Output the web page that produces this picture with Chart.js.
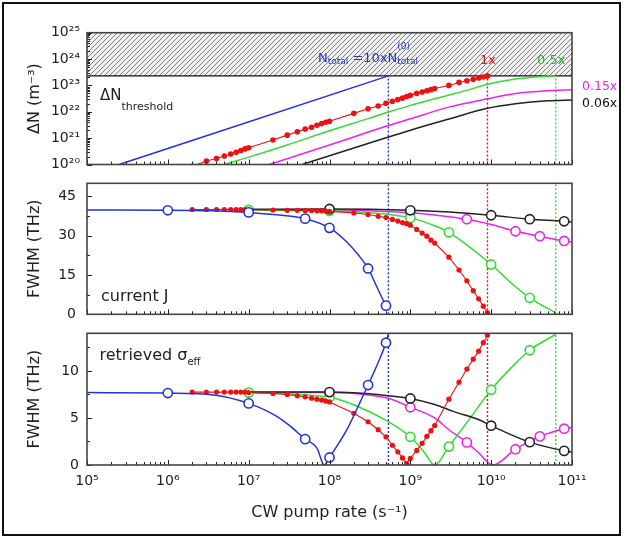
<!DOCTYPE html>
<html><head><meta charset="utf-8">
<script src="https://cdn.jsdelivr.net/npm/chart.js@4/dist/chart.umd.min.js"></script>
<style>
html,body{margin:0;padding:0;background:#fff;}
#wrap{position:relative;width:625px;height:538px;overflow:hidden;font-family:"DejaVu Sans",sans-serif;}
canvas{position:absolute;left:0;top:0;}
#frame{position:absolute;left:2px;top:2px;width:619px;height:534px;border:2px solid #111;box-sizing:border-box;}
.t{position:absolute;white-space:nowrap;line-height:1;}
.sb{font-size:9px;vertical-align:-2px;}
.rel{position:relative;}
.sup0{position:absolute;left:0;top:-8px;font-size:9px;}
</style></head><body>
<div id="wrap">
<div id="frame"></div>
<canvas id="c1" width="625" height="538"></canvas>
<canvas id="c2" width="625" height="538"></canvas>
<canvas id="c3" width="625" height="538"></canvas>
<div class="t" style="left:318px;top:50.5px;font-size:13px;color:#2233dd;">N<span class="sb">total</span> =10xN<span class="rel"><span class="sb">total</span><span class="sup0">(0)</span></span></div>
<div class="t" style="left:480px;top:53px;font-size:13px;color:#ee1111;">1x</div>
<div class="t" style="left:537px;top:53px;font-size:13px;color:#22bb22;">0.5x</div>
<div class="t" style="left:582px;top:80px;font-size:12.5px;color:#ee22ee;">0.15x</div>
<div class="t" style="left:582px;top:97px;font-size:12.5px;color:#111;">0.06x</div>
<div class="t" style="left:100px;top:87.5px;font-size:15px;color:#222;">ΔN<span style="font-size:11px;vertical-align:-10px;">threshold</span></div>
<div class="t" style="left:101px;top:288.3px;font-size:16px;color:#222;">current J</div>
<div class="t" style="left:99.5px;top:347px;font-size:16px;color:#222;">retrieved σ<span style="font-size:10px;vertical-align:-5px;">eff</span></div>
</div>
<script>
// ===== axis ticks =====
const xMin = 1e5, xMax = 1e11;
const xTickValues = [1e5,1e6,1e7,1e8,1e9,1e10,1e11];
const xTickLabels = ['10⁵','10⁶','10⁷','10⁸','10⁹','10¹⁰','10¹¹'];
const nTickValues = [1e20,1e21,1e22,1e23,1e24,1e25];
const nTickLabels = ['10²⁰','10²¹','10²²','10²³','10²⁴','10²⁵'];
const jTickValues = [0,15,30,45];
const sTickValues = [0,5,10];

// ===== markers / reference values =====
const thresholdN = 2.3e23;
const rateBlue = 5.35e8, rateRed = 9e9, rateGreen = 6.3e10;

// red series (dots, all three panels)
const redX = [2e6,3e6,4e6,5e6,6e6,7e6,8e6,9e6,1e7, 2e7,3e7,4e7,5e7,6e7,7e7,8e7,9e7,1e8, 2e8,3e8,4e8,5e8,6e8,7e8,8e8,9e8,1e9, 1.2e9,1.4e9,1.6e9,1.8e9,2e9, 3e9,4e9,5e9,6e9,7e9,8e9,9e9];
const redN = [0.85e20,1.35e20,1.7e20,2.1e20,2.5e20,2.9e20,3.4e20,3.9e20,4.3e20, 8.5e20,1.3e21,1.75e21,2.2e21,2.6e21,3.1e21,3.6e21,4.0e21,4.4e21, 8.7e21,1.3e22,1.65e22,2.1e22,2.5e22,2.9e22,3.3e22,3.8e22,4.2e22, 5.0e22,5.6e22,6.3e22,6.9e22,7.6e22, 1.0e23,1.3e23,1.5e23,1.7e23,1.9e23,2.1e23,2.3e23];
const redJ = [40.0,40.0,40.0,40.0,40.0,40.0,40.0,40.0,39.9, 39.8,39.7,39.7,39.6,39.6,39.5,39.5,39.4,39.3, 38.7,38.1,37.4,36.9,36.2,35.6,35.0,34.6,34.0, 32.4,31.0,29.8,28.3,27.2, 21.8,16.9,12.8,9.0,5.9,3.1,0.6];
const redS = [7.75,7.75,7.75,7.75,7.75,7.75,7.75,7.75,7.7, 7.6,7.5,7.35,7.25,7.1,7.0,6.9,6.8,6.7, 5.5,4.6,3.75,3.0,2.1,1.4,0.75,0.15,0.7, 1.55,2.3,3.05,3.65,4.2, 7.0,8.8,10.2,11.25,12.1,13.0,13.8];

// top panel curves (ΔN threshold)
const blueNX = [2.5e5, 5.35e8];
const blueN = [1e20, 2.3e23];
const greenNX = [5e6,1e7,3e7,1e8,3e8,5.35e8,1e9,2e9,3e9,5e9,9e9,2e10,4e10,6.3e10];
const greenN = [1.0e20,1.9e20,5.5e20,1.9e21,5.5e21,9.8e21,1.75e22,3.1e22,4.3e22,6.5e22,1.1e23,1.75e23,2.15e23,2.3e23];
const magentaNX = [1.8e7,1e8,5.35e8,1e9,3e9,9e9,2e10,5e10,1e11];
const magentaN = [1.0e20,5.5e20,3.0e21,5.4e21,1.5e22,3.1e22,4.9e22,6.3e22,6.8e22];
const blackNX = [4.6e7,1e8,5.35e8,1e9,3e9,9e9,2e10,5e10,1e11];
const blackN = [1.0e20,2.15e20,1.1e21,2.0e21,5.3e21,1.35e22,2.0e22,2.6e22,2.8e22];

// middle panel (current J)
const blueCircX = [1e6,1e7,5e7,1e8,3e8,5e8];
const blueCircJ = [39.7,38.9,36.5,33.0,17.5,3.3];
const blueCurveJX = [1e5,1e6,3e6,1e7,2e7,5e7,1e8,1.64e8,2.28e8,3e8,3.85e8,4.4e8,5e8];
const blueCurveJ = [39.8,39.7,39.5,38.9,38.1,36.5,33.0,27.6,22.6,17.5,10.5,6.7,3.3];
const greenCircX = [1e7,1e8,1e9,3e9,1e10,3e10];
const greenCircJ = [39.8,39.5,36.8,31.3,19.0,6.3];
const greenCurveJX = [1e7,1e8,3e8,1e9,2e9,3e9,5e9,1e10,2e10,3e10,4.5e10,6.3e10];
const greenCurveJ = [39.8,39.5,38.8,36.8,33.8,31.3,26.5,19.0,10.5,6.3,3.0,0.6];
const magentaCircX = [1e8,1e9,5e9,2e10,4e10,8e10];
const magentaCircJ = [39.8,38.8,36.3,31.7,29.8,28.0];
const magentaCurveJX = [1e7,1e8,1e9,2e9,5e9,1e10,2e10,4e10,8e10,1e11];
const magentaCurveJ = [39.9,39.8,38.8,37.9,36.3,34.3,31.7,29.8,28.0,27.7];
const blackCircX = [1e8,1e9,1e10,3e10,8e10];
const blackCircJ = [40.2,39.7,37.8,36.3,35.5];
const blackCurveJX = [1e7,1e8,1e9,3e9,1e10,3e10,8e10,1e11];
const blackCurveJ = [40.1,40.2,39.7,39.0,37.8,36.3,35.5,35.2];

// bottom panel (retrieved sigma_eff)
const blueCircS = [7.65,6.55,2.75,0.8,8.5,13.0];
const blueCurveSX = [1e5,1e6,3.7e6,1e7,2.2e7,3.3e7,5e7,7e7,8.6e7,1e8,1.64e8,2.28e8,3e8,4e8,5e8,5.4e8];
const blueCurveS = [7.7,7.65,7.45,6.55,5.2,4.1,2.75,1.8,0,0.8,3.75,6.3,8.5,10.9,13.0,14.0];
const greenCircS = [7.7,7.2,3.0,1.96,8.0,12.2];
const greenCurveSX = [1e7,1e8,2e8,5.35e8,1e9,1.5e9,2e9,3e9,5e9,1e10,2e10,3e10,6.3e10];
const greenCurveS = [7.7,7.2,6.4,4.6,3.0,1.3,0,1.96,4.5,8.0,10.8,12.2,13.9];
const magentaCircS = [7.7,6.14,2.4,1.68,3.04,3.86];
const magentaCurveSX = [1e7,1e8,3e8,5.35e8,1e9,2e9,3e9,5e9,7e9,1.05e10,2e10,4e10,8e10,1e11];
const magentaCurveS = [7.7,7.7,7.45,7.1,6.14,5.0,3.75,2.4,1.3,0,1.68,3.04,3.86,4.0];
const blackCircS = [7.75,7.07,4.18,2.43,1.5];
const blackCurveSX = [1e7,1e8,5e8,1e9,2e9,3.4e9,7.3e9,1e10,3e10,8e10,1e11];
const blackCurveS = [7.75,7.75,7.4,7.07,6.43,5.7,4.75,4.18,2.43,1.5,1.36];

// ===== styling =====
const C = {blue:'#2233dd', red:'#ee1111', green:'#33dd33', magenta:'#ee22ee', black:'#222222'};
const FONT = '"DejaVu Sans", sans-serif';

function pts(xs, ys){ return xs.map((x,i)=>({x:x, y:ys[i]})); }

const hatch = (function(){
  const c = document.createElement('canvas'); c.width = 5; c.height = 5;
  const g = c.getContext('2d');
  g.fillStyle = '#f0f0f0'; g.fillRect(0,0,5,5);
  g.strokeStyle = '#808080'; g.lineWidth = 1;
  g.beginPath();
  g.moveTo(-1,6); g.lineTo(6,-1);
  g.moveTo(-3,3); g.lineTo(3,-3);
  g.moveTo(2,8); g.lineTo(8,2);
  g.stroke();
  return g.createPattern(c,'repeat');
})();

const framePlugin = {
  id: 'frame',
  afterDatasetsDraw(chart, args, opts){
    const ctx = chart.ctx, a = chart.chartArea, x = chart.scales.x, y = chart.scales.y;
    ctx.save();
    ctx.strokeStyle = '#222'; ctx.lineWidth = 1;
    ctx.beginPath();
    for (let d = 5; d <= 11; d++){
      for (let k = 1; k <= 9; k++){
        const v = k*Math.pow(10,d);
        if (v > xMax*1.0001) break;
        const px = Math.round(x.getPixelForValue(v)) + 0.5;
        const L = k === 1 ? 5 : 3;
        ctx.moveTo(px, a.bottom); ctx.lineTo(px, a.bottom - L);
      }
    }
    (opts.yMajor||[]).forEach(v => { const py = Math.round(y.getPixelForValue(v))+0.5; ctx.moveTo(a.left,py); ctx.lineTo(a.left+5,py); });
    (opts.yMinor||[]).forEach(v => { const py = Math.round(y.getPixelForValue(v))+0.5; ctx.moveTo(a.left,py); ctx.lineTo(a.left+3,py); });
    ctx.stroke();
    ctx.strokeStyle = '#444'; ctx.lineWidth = 1.6;
    ctx.strokeRect(a.left, a.top, a.width, a.height);
    ctx.restore();
  }
};

function lineDS(data, color, order, extra){
  return Object.assign({data:data, borderColor:color, backgroundColor:color, borderWidth:1.5, pointRadius:0, fill:false, order:order, cubicInterpolationMode:'monotone'}, extra||{});
}
function circleDS(data, color, order){
  return {data:data, showLine:false, borderColor:color, backgroundColor:'#fff', pointBackgroundColor:'#fff', pointBorderColor:color, pointBorderWidth:1.6, pointRadius:4.6, order:order};
}
function dottedDS(x, y0, y1, color){
  return {data:[{x:x,y:y0},{x:x,y:y1}], borderColor:color, borderWidth:1.4, borderDash:[2,2], pointRadius:0, fill:false, order:9};
}
function redDS(ys, r){
  return {data:pts(redX, ys), borderColor:C.red, backgroundColor:C.red, borderWidth:1.1, pointRadius:r, pointBorderWidth:0, pointBackgroundColor:C.red, order:2, clip:0};
}

function xScale(show){
  const s = {type:'logarithmic', min:xMin, max:xMax, display:show,
    grid:{display:false, drawTicks:false}, border:{display:false},
    afterBuildTicks: sc => { sc.ticks = xTickValues.map(v => ({value:v})); },
    ticks:{autoSkip:false, maxRotation:0, padding:8, color:'#222', font:{family:FONT,size:14},
      callback: v => { const i = xTickValues.indexOf(v); return i >= 0 ? xTickLabels[i] : ''; }},
    title:{display:show, text:'CW pump rate (s⁻¹)', color:'#222', font:{family:FONT,size:16}, padding:{top:0,bottom:6}}
  };
  if (show) s.afterFit = sc => { sc.height = 63; };
  return s;
}
function yScale(type, min, max, tickVals, labels, pad, fsize, title){
  return {type:type, min:min, max:max,
    grid:{display:false, drawTicks:false}, border:{display:false},
    afterFit: sc => { sc.width = 83; },
    afterBuildTicks: sc => { sc.ticks = tickVals.map(v => ({value:v})); },
    ticks:{autoSkip:false, padding:pad, color:'#222', font:{family:FONT,size:fsize},
      callback: v => { const i = tickVals.indexOf(v); return i >= 0 ? (labels ? labels[i] : String(v)) : ''; }},
    title:{display:true, text:title, color:'#222', font:{family:FONT,size:16}, padding:{top:21,bottom:0}}
  };
}
const common = {responsive:false, animation:false, devicePixelRatio:1, parsing:true};

// ===== top chart =====
const nMinor = [];
for (let d = 20; d < 25; d++) for (let k = 2; k <= 9; k++) nMinor.push(k*Math.pow(10,d));
new Chart(document.getElementById('c1'), {
  type:'line',
  data:{datasets:[
    lineDS([{x:xMin,y:thresholdN},{x:xMax,y:thresholdN}], '#111', 10, {fill:'end', backgroundColor:hatch, borderWidth:1.3, cubicInterpolationMode:'default'}),
    lineDS(pts(blueNX, blueN), C.blue, 1),
    redDS(redN, 2.8),
    lineDS(pts(greenNX, greenN), C.green, 5),
    lineDS(pts(magentaNX, magentaN), C.magenta, 6),
    lineDS(pts(blackNX, blackN), C.black, 4),
    dottedDS(rateBlue, 1e20, thresholdN, C.blue),
    dottedDS(rateRed, 1e20, thresholdN, C.red),
    dottedDS(rateGreen, 1e20, thresholdN, C.green)
  ]},
  options:Object.assign({}, common, {
    layout:{padding:{left:4, right:53, top:32.7, bottom:373.5}},
    plugins:{legend:{display:false}, tooltip:{enabled:false}, frame:{yMajor:nTickValues, yMinor:nMinor}},
    scales:{x:xScale(false), y:yScale('logarithmic', 1e20, 1e25, nTickValues, nTickLabels, 7, 14, 'ΔN (m⁻³)')}
  }),
  plugins:[framePlugin]
});

// ===== middle chart =====
new Chart(document.getElementById('c2'), {
  type:'line',
  data:{datasets:[
    circleDS(pts(blueCircX, blueCircJ), C.blue, 0),
    lineDS(pts(blueCurveJX, blueCurveJ), C.blue, 1),
    redDS(redJ, 2.6),
    circleDS(pts(blackCircX, blackCircJ), C.black, 3),
    lineDS(pts(blackCurveJX, blackCurveJ), C.black, 4),
    circleDS(pts(greenCircX, greenCircJ), C.green, 5),
    lineDS(pts(greenCurveJX, greenCurveJ), C.green, 6),
    circleDS(pts(magentaCircX, magentaCircJ), C.magenta, 7),
    lineDS(pts(magentaCurveJX, magentaCurveJ), C.magenta, 8),
    dottedDS(rateBlue, 0, 50, C.blue),
    dottedDS(rateRed, 0, 50, C.red),
    dottedDS(rateGreen, 0, 50, C.green)
  ]},
  options:Object.assign({}, common, {
    layout:{padding:{left:4, right:53, top:183.3, bottom:223.7}},
    plugins:{legend:{display:false}, tooltip:{enabled:false}, frame:{yMajor:jTickValues, yMinor:[7.5,22.5,37.5]}},
    scales:{x:xScale(false), y:yScale('linear', 0, 50, jTickValues, null, 11, 14, 'FWHM (THz)')}
  }),
  plugins:[framePlugin]
});

// ===== bottom chart =====
new Chart(document.getElementById('c3'), {
  type:'line',
  data:{datasets:[
    circleDS(pts(blueCircX, blueCircS), C.blue, 0),
    lineDS(pts(blueCurveSX, blueCurveS), C.blue, 1),
    redDS(redS, 2.6),
    circleDS(pts(blackCircX, blackCircS), C.black, 3),
    lineDS(pts(blackCurveSX, blackCurveS), C.black, 4),
    circleDS(pts(greenCircX, greenCircS), C.green, 5),
    lineDS(pts(greenCurveSX, greenCurveS), C.green, 6),
    circleDS(pts(magentaCircX, magentaCircS), C.magenta, 7),
    lineDS(pts(magentaCurveSX, magentaCurveS), C.magenta, 8),
    dottedDS(rateBlue, 0, 14, C.blue),
    dottedDS(rateRed, 0, 14, C.red),
    dottedDS(rateGreen, 0, 14, C.green)
  ]},
  options:Object.assign({}, common, {
    layout:{padding:{left:4, right:53, top:333.3, bottom:10}},
    plugins:{legend:{display:false}, tooltip:{enabled:false}, frame:{yMajor:sTickValues, yMinor:[2.5,7.5,12.5]}},
    scales:{x:xScale(true), y:yScale('linear', 0, 14, sTickValues, null, 8, 14, 'FWHM (THz)')}
  }),
  plugins:[framePlugin]
});
</script>
</body></html>
